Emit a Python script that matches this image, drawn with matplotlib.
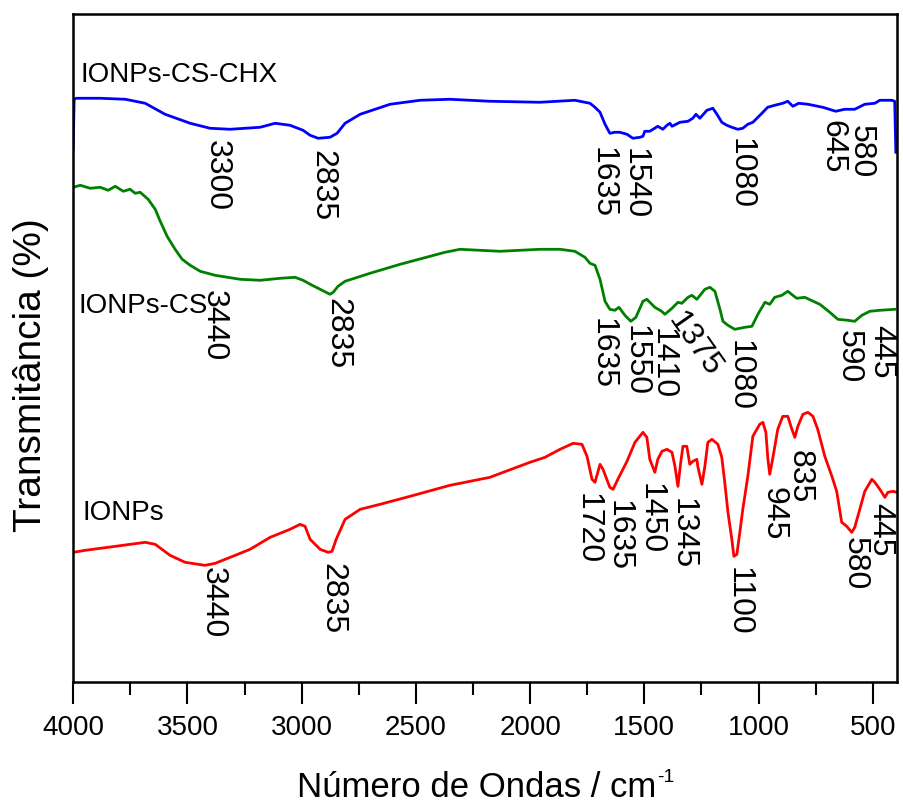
"""
FTIR spectra of IONPs, IONPs-CS and IONPs-CS-CHX, stacked with offsets.
"""

import matplotlib
matplotlib.use("Agg")
import matplotlib.pyplot as plt

plt.rcParams["font.family"] = ["Liberation Sans", "DejaVu Sans"]

# wavenumber (cm-1) and offset transmittance (a.u.) for each spectrum
chx_wn = [4000, 3996, 3987, 3882, 3772, 3685, 3598, 3488, 3401, 3313, 3182, 3116,
          3051, 2994, 2963, 2928, 2876, 2845, 2810, 2744, 2613, 2482, 2351, 2176,
          1957, 1804, 1760, 1738, 1716, 1694, 1672, 1651, 1629, 1607, 1576, 1550,
          1519, 1506, 1498, 1476, 1441, 1419, 1401, 1388, 1379, 1344, 1309, 1288,
          1274, 1257, 1226, 1200, 1182, 1161, 1139, 1117, 1091, 1069, 1047, 1025,
          994, 960, 929, 894, 872, 850, 824, 784, 719, 662, 623, 579, 535, 491,
          469, 417, 404, 399]
chx_t = [533, 583, 584, 584, 583, 579, 568, 559, 554, 553, 555, 559,
         557, 552, 547, 544, 545, 549, 559, 568, 578, 582, 583, 581,
         580, 582, 580, 579, 575, 570, 558, 549, 550, 550, 548, 544,
         545, 546, 551, 551, 556, 553, 557, 559, 556, 560, 561, 564,
         568, 564, 572, 574, 568, 560, 557, 555, 553, 554, 558, 560,
         567, 575, 577, 579, 581, 576, 579, 578, 575, 571, 573, 573, 578, 579,
         582, 582, 581, 530]

cs_wn = [4000, 3969, 3926, 3882, 3847, 3816, 3781, 3751, 3729, 3707, 3672, 3641,
         3619, 3589, 3554, 3523, 3488, 3444, 3379, 3269, 3182, 3094, 3029, 2994,
         2954, 2919, 2876, 2862, 2841, 2810, 2701, 2569, 2438, 2373, 2307, 2132,
         1957, 1869, 1804, 1760, 1738, 1716, 1694, 1672, 1651, 1629, 1611, 1585,
         1559, 1537, 1506, 1489, 1476, 1454, 1424, 1410, 1379, 1353, 1336, 1309,
         1292, 1270, 1235, 1213, 1191, 1169, 1156, 1134, 1104, 1060, 1029, 1003,
         972, 951, 929, 898, 872, 850, 833, 798, 732, 688, 653, 609, 579, 548,
         513, 469, 404]
cs_t = [495, 497, 494, 495, 492, 496, 491, 493, 489, 490, 483, 473,
        461, 446, 433, 423, 417, 411, 407, 403, 402, 404, 405, 402,
        397, 393, 388, 390, 396, 401, 409, 418, 426, 430, 433, 431,
        433, 433, 431, 425, 419, 417, 403, 381, 373, 372, 375, 367,
        361, 365, 381, 383, 380, 375, 371, 368, 374, 380, 379, 385,
        387, 383, 393, 395, 391, 373, 361, 357, 353, 355, 356, 368,
        380, 378, 385, 387, 391, 387, 384, 385, 378, 370, 363, 362, 361, 367,
        371, 372, 373]

np_wn = [4000, 3948, 3882, 3816, 3751, 3685, 3641, 3576, 3510, 3423, 3379, 3313,
         3226, 3138, 3051, 3007, 2985, 2963, 2919, 2884, 2867, 2849, 2810, 2744,
         2657, 2526, 2351, 2176, 2001, 1935, 1869, 1812, 1773, 1751, 1729, 1716,
         1694, 1681, 1651, 1637, 1616, 1576, 1541, 1506, 1489, 1476, 1454, 1441,
         1423, 1401, 1379, 1366, 1353, 1340, 1331, 1314, 1301, 1288, 1270, 1266,
         1248, 1235, 1222, 1204, 1178, 1161, 1148, 1134, 1117, 1108, 1095, 1082,
         1069, 1047, 1025, 995, 981, 968, 959, 951, 937, 916, 894, 872, 854, 841,
         828, 806, 784, 762, 741, 710, 679, 658, 636, 614, 592, 579, 557, 535,
         504, 491, 469, 447, 434, 412, 395]
np_t = [130, 132, 134, 136, 138, 140, 138, 127, 120, 117, 119, 125,
        133, 145, 153, 158, 156, 143, 133, 130, 131, 143, 163, 173,
        178, 186, 197, 205, 220, 225, 233, 239, 238, 226, 203, 200,
        218, 213, 195, 193, 203, 221, 240, 250, 245, 223, 210, 223,
        231, 233, 230, 216, 196, 221, 236, 236, 218, 221, 223, 216,
        198, 216, 240, 243, 238, 225, 200, 170, 143, 126, 128, 150,
        173, 206, 246, 258, 260, 250, 223, 208, 225, 253, 266, 266, 253, 245,
        256, 268, 270, 266, 253, 226, 206, 191, 160, 156, 150, 155, 173, 191,
        203, 200, 193, 185, 190, 191, 190]

# peak labels: (text, wavenumber anchor, offset transmittance of label top)
chx_peaks = [("3300", 3370, 543), ("2835", 2911, 533), ("1635", 1681, 536),
             ("1540", 1541, 535), ("1080", 1077, 545), ("645", 679, 563),
             ("580", 553, 558)]
cs_peaks = [("3440", 3383, 393), ("2835", 2845, 385), ("1635", 1681, 365),
            ("1550", 1537, 358), ("1410", 1419, 355), ("1080", 1082, 343),
            ("590", 605, 353), ("445", 465, 358)]
np_peaks = [("3440", 3388, 116), ("2835", 2867, 120), ("1720", 1747, 190),
            ("1635", 1611, 183), ("1450", 1471, 200), ("1345", 1331, 185),
            ("1100", 1086, 116), ("945", 933, 196), ("835", 819, 233),
            ("580", 579, 146), ("445", 469, 180)]

fig = plt.figure(figsize=(9.04, 8.03), dpi=100)
ax = fig.add_axes([0.081, 0.149, 0.911, 0.832])

lw = 2.0
ax.plot(chx_wn, chx_t, color="#0000ff", lw=lw)
ax.plot(cs_wn, cs_t, color="#008000", lw=lw)
ax.plot(np_wn, np_t, color="#ff0000", lw=lw)

ax.set_xlim(4000, 395)
ax.set_ylim(0, 668)

for peaks in (chx_peaks, cs_peaks, np_peaks):
    for txt, x, y in peaks:
        ax.text(x, y, txt, rotation=270, ha="center", va="top", fontsize=23)

# the 1375 band of IONPs-CS is written at an angle
ax.text(1279, 339, "1375", rotation=-55, ha="center", va="center", fontsize=23)

ax.text(3970, 601, "IONPs-CS-CHX", fontsize=20, ha="left", va="baseline")
ax.text(3979, 370, "IONPs-CS", fontsize=20, ha="left", va="baseline")
ax.text(3961, 163, "IONPs", fontsize=20, ha="left", va="baseline")

ax.set_xticks([4000, 3500, 3000, 2500, 2000, 1500, 1000, 500])
ax.set_xticks([3750, 3250, 2750, 2250, 1750, 1250, 750], minor=True)
ax.set_yticks([])
ax.tick_params(axis="x", which="major", direction="out", length=16, width=1.5,
               labelsize=20, pad=7)
ax.tick_params(axis="x", which="minor", direction="out", length=9, width=1.5)
for sp in ax.spines.values():
    sp.set_linewidth(1.8)

ax.set_ylabel("Transmitância (%)", fontsize=28, va="center")
ax.yaxis.set_label_coords(-0.051, 0.461)

# x label with a plain hyphen in the superscript
xlab = fig.text(0.3285, 0.008, "Número de Ondas / cm", fontsize=25,
                ha="left", va="baseline")
fig.canvas.draw()
bb = xlab.get_window_extent()
fig.text((bb.x1 + 1) / fig.bbox.width, 0.008 + 15 / fig.bbox.height, "-1",
         fontsize=14, ha="left", va="baseline")

fig.savefig("out.png", dpi=100)
